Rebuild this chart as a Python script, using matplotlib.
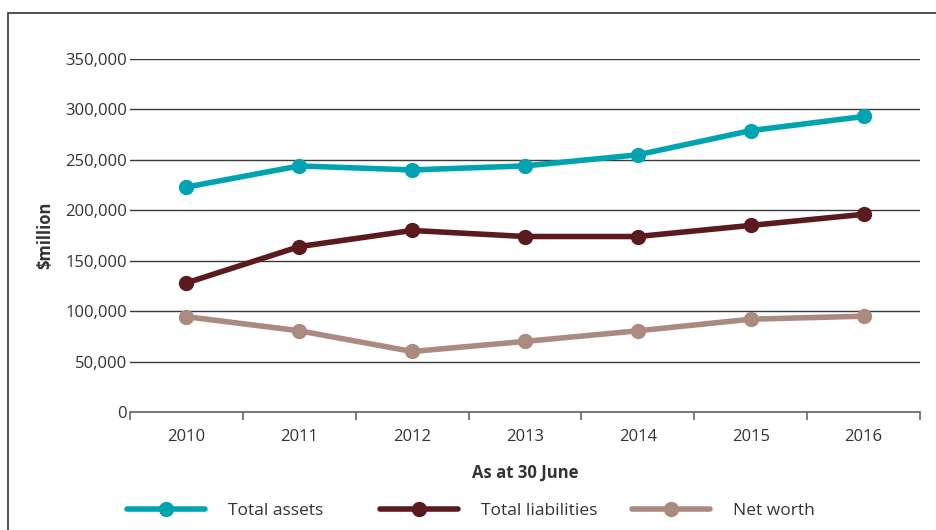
import matplotlib
matplotlib.use("Agg")
import matplotlib.pyplot as plt
from matplotlib.patches import Rectangle
from matplotlib.ticker import FuncFormatter, FixedLocator, NullFormatter

years = ["2010", "2011", "2012", "2013", "2014", "2015", "2016"]
total_assets = [223000, 244000, 240000, 244000, 255000, 279000, 293000]
total_liabilities = [128000, 164000, 180000, 174000, 174000, 185000, 196000]
net_worth = [94500, 80500, 60000, 70000, 80500, 92000, 95000]

series_names = ["Total assets", "Total liabilities", "Net worth"]
colors = ["#00a4b0", "#5a1a1e", "#ab8a80"]

plt.rcParams['font.family'] = ['Open Sans', 'DejaVu Sans']

W, H = 937, 530
fig = plt.figure(figsize=(W / 100, H / 100), dpi=100)

# outer frame
fig.patches.append(Rectangle((8 / W, -0.1), 1.2, (H - 13) / H + 0.1, transform=fig.transFigure,
                             fill=False, edgecolor="#333333", linewidth=1.2))

ax = fig.add_axes([130 / W, 1 - 412 / H, (920 - 130) / W, (412 - 59) / H])
x = list(range(len(years)))
lines = []
for vals, name, c in zip([total_assets, total_liabilities, net_worth], series_names, colors):
    ln, = ax.plot(x, vals, color=c, lw=4, marker="o", markersize=10, label=name, solid_capstyle="round")
    lines.append(ln)

ax.set_xlim(-0.5, len(years) - 0.5)
ax.set_ylim(0, 350000)
ax.set_yticks(range(0, 350001, 50000))
ax.yaxis.set_major_formatter(FuncFormatter(lambda v, p: f"{int(v):,}"))
ax.grid(axis="y", color="#3a3a3a", lw=1)
ax.set_axisbelow(True)
for s in ["top", "right", "left"]:
    ax.spines[s].set_visible(False)
ax.spines["bottom"].set_color("#666666")
ax.spines["bottom"].set_linewidth(1.2)
ax.tick_params(axis="y", length=0, pad=2, labelsize=12, labelcolor="#333333")

ax.xaxis.set_major_locator(FixedLocator([i - 0.5 for i in range(len(years) + 1)]))
ax.xaxis.set_major_formatter(NullFormatter())
ax.xaxis.set_minor_locator(FixedLocator(x))
ax.set_xticks(x, minor=True)
ax.set_xticklabels(years, minor=True)
ax.tick_params(axis="x", which="major", length=6, color="#666666", width=1.2)
ax.tick_params(axis="x", which="minor", length=0, pad=12, labelsize=12, labelcolor="#333333")

ax.set_ylabel("$million", fontsize=12, fontweight="bold", color="#333333", labelpad=8)
ax.set_xlabel("As at 30 June", fontsize=12, fontweight="bold", color="#333333", labelpad=14)

# legend: three evenly spaced entries
legend_left = [127, 380, 632]
for ln, xl in zip(lines, legend_left):
    leg = fig.legend(handles=[ln], loc="center left", bbox_to_anchor=(xl / W, 1 - 511 / H),
                     frameon=False, fontsize=12.5, handlelength=4.5, handletextpad=1.3,
                     borderpad=0, borderaxespad=0)
    for t in leg.get_texts():
        t.set_color("#333333")

fig.savefig("out.png", dpi=100)
